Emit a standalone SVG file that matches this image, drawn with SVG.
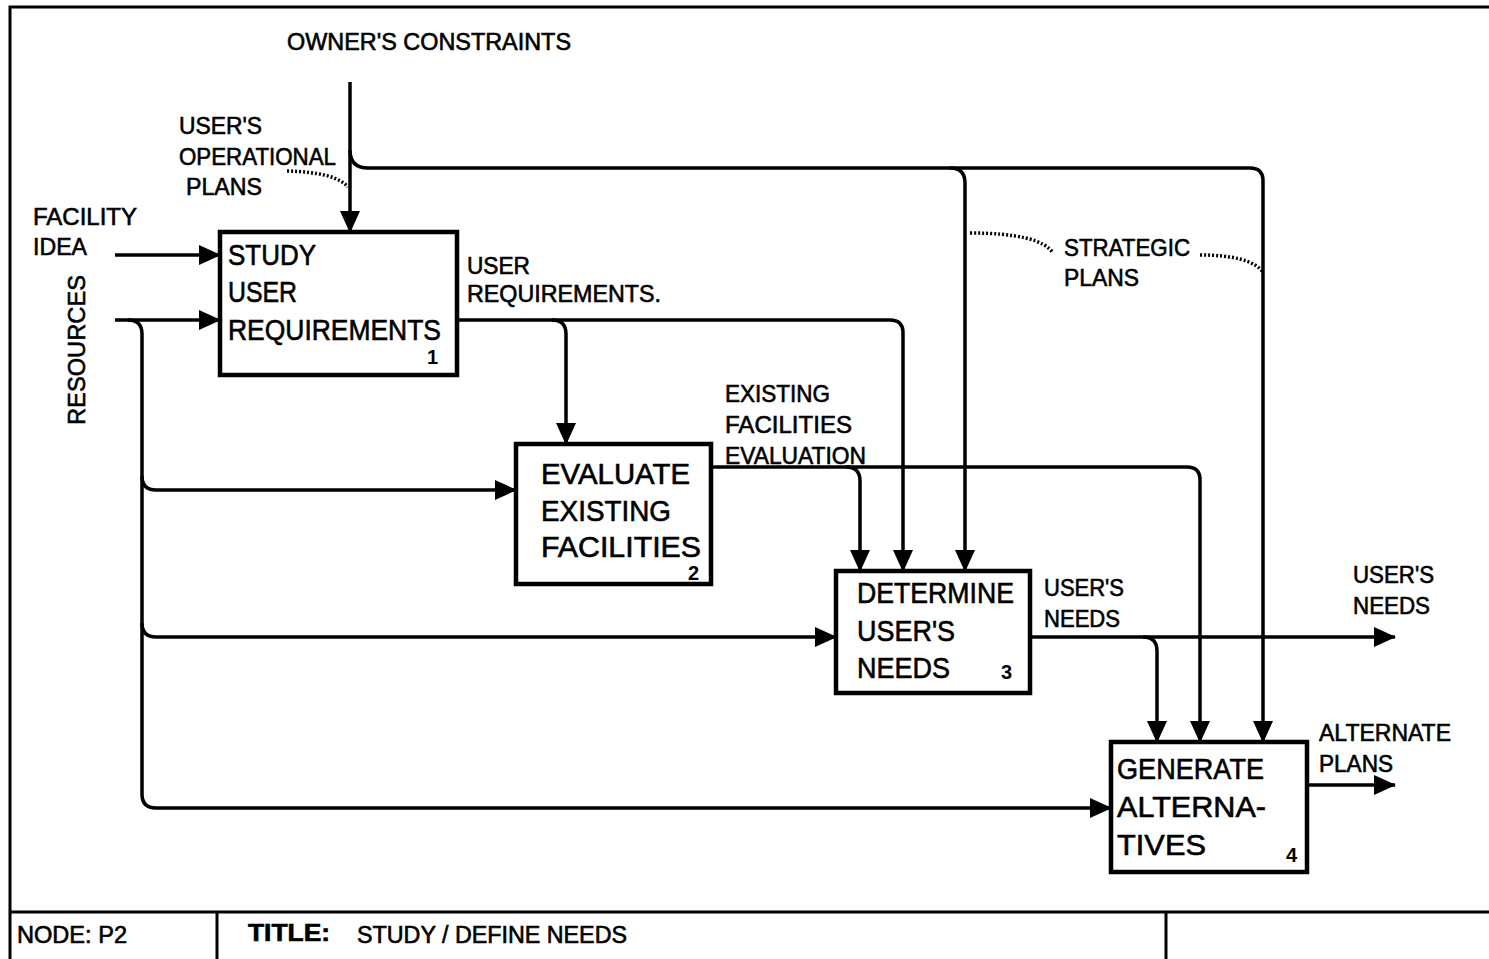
<svg xmlns="http://www.w3.org/2000/svg" width="1489" height="959" viewBox="0 0 1489 959">
<defs>
<marker id="ah" markerUnits="userSpaceOnUse" markerWidth="22" markerHeight="20" refX="21" refY="10" orient="auto">
<path d="M0,0 L22,10 L0,20 z" fill="#000"/>
</marker>
<style>
text{font-family:"Liberation Sans",Arial,sans-serif;fill:#000;stroke:#000;stroke-width:0.6}
.lbl{font-size:24px}
.box{font-size:29px}
.num{font-size:20px;font-weight:bold;stroke-width:0}
.tb{font-size:23px}
.node rect{fill:#fff;stroke:#000;stroke-width:4.5}
.c{fill:none;stroke:#000;stroke-width:3.5}
.a{marker-end:url(#ah)}
.dot{fill:none;stroke:#000;stroke-width:3.5;stroke-dasharray:2 2}
.frame{fill:none;stroke:#000;stroke-width:3}
</style>
</defs>
<rect x="0" y="0" width="1489" height="959" fill="#fff"/>
<g id="frame">
<path class="frame" d="M1489,7 H10 V959"/>
<path class="frame" d="M10,912 H1489 M217,912 V959 M1166,912 V959"/>
<text class="tb" x="17" y="943" textLength="110" lengthAdjust="spacingAndGlyphs">NODE: P2</text>
<text class="tb" x="248" y="941" font-weight="bold" textLength="82" lengthAdjust="spacingAndGlyphs">TITLE:</text>
<text class="tb" x="357" y="943" textLength="270" lengthAdjust="spacingAndGlyphs">STUDY / DEFINE NEEDS</text>
</g>
<g id="connectors">
<path class="c a" d="M350,82 V232"/>
<path class="c a" d="M350,150 Q350,168 368,168 H1250 Q1263,168 1263,181 V742"/>
<path class="c a" d="M950,168 Q965,168 965,183 V571"/>
<path class="c a" d="M115,255 H220"/>
<path class="c a" d="M115,320 H220"/>
<path class="c a" d="M128,320 Q142,320 142,334 V794 Q142,808 156,808 H1111"/>
<path class="c a" d="M142,476 Q142,490 156,490 H516"/>
<path class="c a" d="M142,623 Q142,637 156,637 H836"/>
<path class="c a" d="M457,320 H890 Q903,320 903,333 V571"/>
<path class="c a" d="M552,320 Q566,320 566,334 V444"/>
<path class="c a" d="M711,467 H1187 Q1200,467 1200,480 V742"/>
<path class="c a" d="M846,467 Q860,467 860,481 V571"/>
<path class="c a" d="M1030,637 H1395"/>
<path class="c a" d="M1143,637 Q1157,637 1157,651 V742"/>
<path class="c a" d="M1307,785 H1395"/>
<path class="dot" d="M287,171 Q335,172 348,187"/>
<path class="dot" d="M970,233 Q1040,233 1053,253"/>
<path class="dot" d="M1200,255 Q1250,255 1263,272"/>
</g>
<g id="labels">
<text class="lbl" x="287" y="50" textLength="284" lengthAdjust="spacingAndGlyphs">OWNER'S CONSTRAINTS</text>
<text class="lbl" x="179" y="134" textLength="83" lengthAdjust="spacingAndGlyphs">USER'S</text>
<text class="lbl" x="179" y="165" textLength="157" lengthAdjust="spacingAndGlyphs">OPERATIONAL</text>
<text class="lbl" x="186" y="195" textLength="76" lengthAdjust="spacingAndGlyphs">PLANS</text>
<text class="lbl" x="33" y="225" textLength="104" lengthAdjust="spacingAndGlyphs">FACILITY</text>
<text class="lbl" x="33" y="255" textLength="54" lengthAdjust="spacingAndGlyphs">IDEA</text>
<text class="lbl" transform="translate(85,425) rotate(-90)" x="0" y="0" textLength="150" lengthAdjust="spacingAndGlyphs">RESOURCES</text>
<text class="lbl" x="467" y="274" textLength="63" lengthAdjust="spacingAndGlyphs">USER</text>
<text class="lbl" x="467" y="302" textLength="194" lengthAdjust="spacingAndGlyphs">REQUIREMENTS.</text>
<text class="lbl" x="725" y="402" textLength="105" lengthAdjust="spacingAndGlyphs">EXISTING</text>
<text class="lbl" x="725" y="433" textLength="127" lengthAdjust="spacingAndGlyphs">FACILITIES</text>
<text class="lbl" x="725" y="464" textLength="141" lengthAdjust="spacingAndGlyphs">EVALUATION</text>
<text class="lbl" x="1064" y="256" textLength="126" lengthAdjust="spacingAndGlyphs">STRATEGIC</text>
<text class="lbl" x="1064" y="286" textLength="75" lengthAdjust="spacingAndGlyphs">PLANS</text>
<text class="lbl" x="1044" y="596" textLength="80" lengthAdjust="spacingAndGlyphs">USER'S</text>
<text class="lbl" x="1044" y="627" textLength="76" lengthAdjust="spacingAndGlyphs">NEEDS</text>
<text class="lbl" x="1353" y="583" textLength="81" lengthAdjust="spacingAndGlyphs">USER'S</text>
<text class="lbl" x="1353" y="614" textLength="77" lengthAdjust="spacingAndGlyphs">NEEDS</text>
<text class="lbl" x="1319" y="741" textLength="132" lengthAdjust="spacingAndGlyphs">ALTERNATE</text>
<text class="lbl" x="1319" y="772" textLength="74" lengthAdjust="spacingAndGlyphs">PLANS</text>
</g>
<g id="node1" class="node">
<rect x="220" y="232" width="237" height="143"/>
<text class="box" x="228" y="265" textLength="88" lengthAdjust="spacingAndGlyphs">STUDY</text>
<text class="box" x="228" y="302" textLength="69" lengthAdjust="spacingAndGlyphs">USER</text>
<text class="box" x="228" y="340" textLength="213" lengthAdjust="spacingAndGlyphs">REQUIREMENTS</text>
<text class="num" x="427" y="364">1</text>
</g>
<g id="node2" class="node">
<rect x="516" y="444" width="195" height="140"/>
<text class="box" x="541" y="484" textLength="149" lengthAdjust="spacingAndGlyphs">EVALUATE</text>
<text class="box" x="541" y="521" textLength="130" lengthAdjust="spacingAndGlyphs">EXISTING</text>
<text class="box" x="541" y="557" textLength="160" lengthAdjust="spacingAndGlyphs">FACILITIES</text>
<text class="num" x="688" y="580">2</text>
</g>
<g id="node3" class="node">
<rect x="836" y="571" width="194" height="122"/>
<text class="box" x="857" y="603" textLength="157" lengthAdjust="spacingAndGlyphs">DETERMINE</text>
<text class="box" x="857" y="641" textLength="98" lengthAdjust="spacingAndGlyphs">USER'S</text>
<text class="box" x="857" y="678" textLength="93" lengthAdjust="spacingAndGlyphs">NEEDS</text>
<text class="num" x="1001" y="679">3</text>
</g>
<g id="node4" class="node">
<rect x="1111" y="742" width="196" height="130"/>
<text class="box" x="1117" y="779" textLength="147" lengthAdjust="spacingAndGlyphs">GENERATE</text>
<text class="box" x="1117" y="817" textLength="149" lengthAdjust="spacingAndGlyphs">ALTERNA-</text>
<text class="box" x="1117" y="855" textLength="89" lengthAdjust="spacingAndGlyphs">TIVES</text>
<text class="num" x="1286" y="862">4</text>
</g>
</svg>
